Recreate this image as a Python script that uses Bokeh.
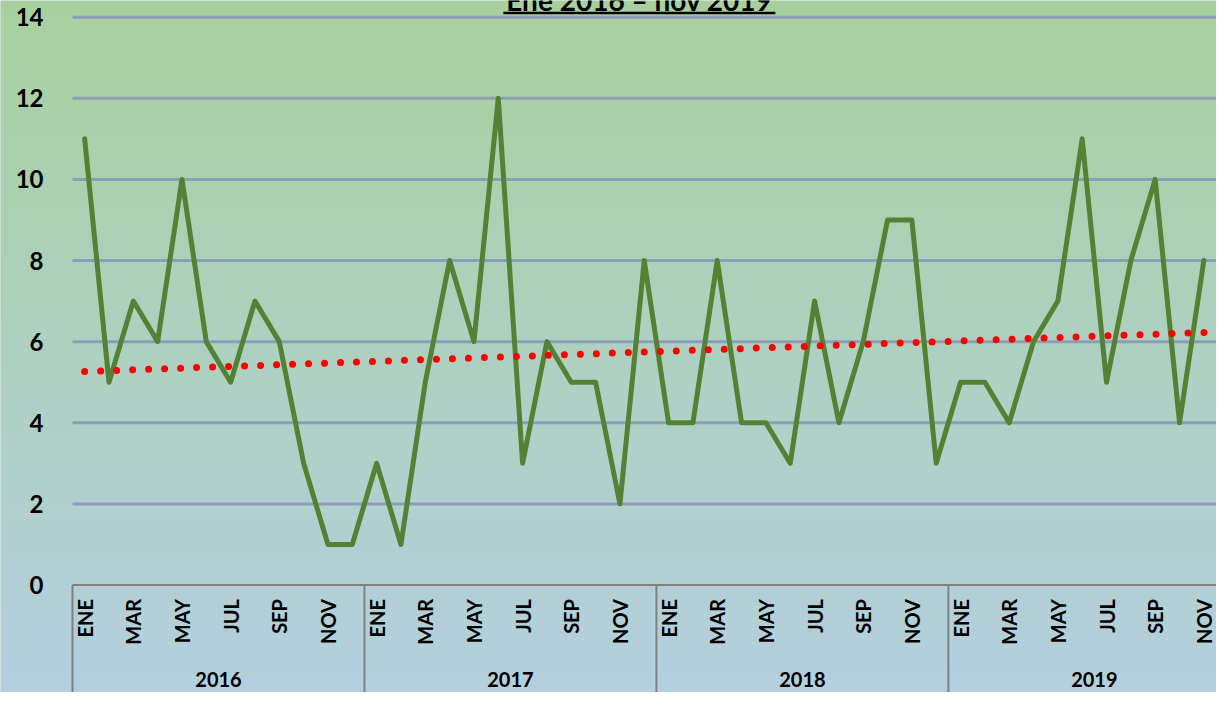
import numpy as np
from bokeh.plotting import figure
from bokeh.models import ColumnDataSource, Range1d
from bokeh.core.properties import value
from bokeh.embed import file_html
from bokeh.resources import INLINE

# ---------------- data ----------------
title_text = "Ene 2016 – nov 2019"
years = ["2016", "2017", "2018", "2019"]
months = ["ENE", "FEB", "MAR", "ABR", "MAY", "JUN", "JUL", "AGO", "SEP", "OCT", "NOV", "DIC"]
shown_months = ["ENE", "MAR", "MAY", "JUL", "SEP", "NOV"]
values_2016 = [11, 5, 7, 6, 10, 6, 5, 7, 6, 3, 1, 1]
values_2017 = [3, 1, 5, 8, 6, 12, 3, 6, 5, 5, 2, 8]
values_2018 = [4, 4, 8, 4, 4, 3, 7, 4, 6, 9, 9, 3]
values_2019 = [5, 5, 4, 6, 7, 11, 5, 8, 10, 4, 8]
y_ticks = [0, 2, 4, 6, 8, 10, 12, 14]

series = values_2016 + values_2017 + values_2018 + values_2019
n_slots = 12 * len(years)
xi = np.arange(len(series))

# linear trend (least squares), drawn over all monthly slots
slope, intercept = np.polyfit(xi, np.array(series, dtype=float), 1)
trend_x = np.arange(n_slots)
trend_y = intercept + slope * trend_x

# ---------------- geometry ----------------
W, H = 1216, 692
slot_px = 24.33
unit_px = 40.56
left_px = 72          # px where slot -0.5 begins
zero_px = 584.5       # px of y=0 from top
x0 = -0.5 - left_px / slot_px
x1 = x0 + W / slot_px
y1 = zero_px / unit_px
y0 = y1 - H / unit_px

FONT = value("Lato")

p = figure(width=W, height=H, output_backend="svg", toolbar_location=None,
           x_range=Range1d(x0, x1), y_range=Range1d(y0, y1),
           min_border=0, min_border_left=0, min_border_right=0,
           min_border_top=0, min_border_bottom=0)
p.axis.visible = False
p.grid.visible = False
p.outline_line_color = None
p.background_fill_color = "#AED0C0"
p.border_fill_color = "#AED0C0"

# gradient background
top = np.array([168, 208, 158])
mid = np.array([174, 208, 192])
bot = np.array([180, 207, 222])
rows = 200
img = np.zeros((rows, 2), dtype=np.uint32)
view = img.view(dtype=np.uint8).reshape((rows, 2, 4))
for r in range(rows):
    t = r / (rows - 1)  # 0 bottom, 1 top
    if t < 0.5:
        c = bot + (mid - bot) * (t / 0.5)
    else:
        c = mid + (top - mid) * ((t - 0.5) / 0.5)
    view[r, :, 0:3] = np.round(c).astype(np.uint8)
    view[r, :, 3] = 255
p.image_rgba(image=[img], x=x0, y=y0, dw=x1 - x0, dh=y1 - y0)

# gridlines
grid_vals = [v for v in y_ticks if v > 0]
p.segment(x0=[-0.5] * len(grid_vals), x1=[x1 + 1] * len(grid_vals),
          y0=grid_vals, y1=grid_vals, line_color="#8C9DB8", line_width=3)

# x axis line and group separators
p.segment(x0=[-0.5], x1=[x1 + 1], y0=[0], y1=[0], line_color="#808080", line_width=2)
sep_x = [-0.5 + 12 * k for k in range(len(years) + 1)]
p.segment(x0=sep_x, x1=sep_x, y0=[0] * len(sep_x), y1=[y0 - 1] * len(sep_x),
          line_color="#808080", line_width=2)

# y tick labels
p.text(x=[-0.5 - 29 / slot_px] * len(y_ticks), y=y_ticks, text=[str(v) for v in y_ticks],
       text_font=FONT, text_font_style="bold", text_font_size="24px",
       text_align="right", text_baseline="middle", text_color="black")

# month labels
mx, mt = [], []
for k in range(len(years)):
    for m_i, m in enumerate(months):
        if m in shown_months:
            mx.append(12 * k + m_i)
            mt.append(m)
p.text(x=mx, y=[-14 / unit_px] * len(mx), text=mt, angle=np.pi / 2,
       text_font=FONT, text_font_style="bold", text_font_size="20px",
       text_align="right", text_baseline="middle", text_color="black")

# year labels
p.text(x=[12 * k + 5.5 for k in range(len(years))], y=[-94 / unit_px] * len(years),
       text=years, text_font=FONT, text_font_style="bold", text_font_size="20px",
       text_align="center", text_baseline="middle", text_color="black")

# data line
src = ColumnDataSource(dict(x=xi, y=series))
p.line("x", "y", source=src, line_color="#548235", line_width=5,
       line_join="round", line_cap="round")

# trend line (dotted)
p.line(trend_x, trend_y, line_color="#FF0000", line_width=7, line_dash="0 16",
       line_cap="round")

# title (its top is cut like the reference)
title_x = (n_slots - 1) / 2 - 0.7
p.text(x=[title_x], y=[y1 + 1 / unit_px], text=[title_text], text_font=FONT,
       text_font_style="bold", text_font_size="28px", text_align="center",
       text_baseline="alphabetic", text_color="black")
half_w = 136 / slot_px
p.segment(x0=[title_x - half_w], x1=[title_x + half_w], y0=[y1 - 12.5 / unit_px],
          y1=[y1 - 12.5 / unit_px], line_color="black", line_width=2.5)

open("out.html", "w").write(file_html(p, INLINE))
